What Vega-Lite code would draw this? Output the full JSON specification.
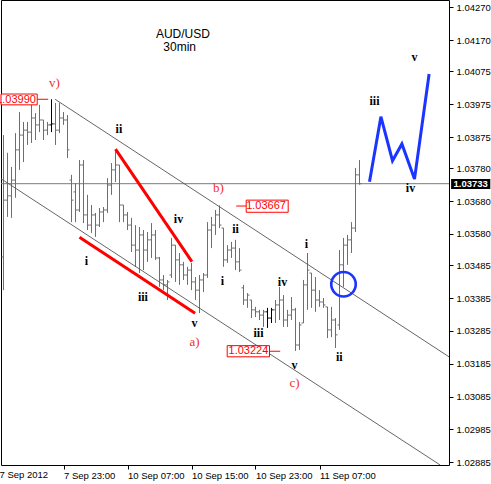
{
"$schema":"https://vega.github.io/schema/vega-lite/v6.json",
"width":448,"height":465,
"autosize":"none",
"padding":{"left":1,"top":0,"right":42,"bottom":19},
"background":"white",
"view":{"stroke":"#000","strokeWidth":1},
"config":{"font":"Liberation Sans"},
"datasets":{
"bars":[
{"i":0,"o":1.03510,"h":1.03881,"l":1.03409,"c":1.03683},
{"i":1,"o":1.03683,"h":1.03827,"l":1.03632,"c":1.03696},
{"i":2,"o":1.03696,"h":1.03784,"l":1.03629,"c":1.03744},
{"i":3,"o":1.03744,"h":1.03887,"l":1.03690,"c":1.03836},
{"i":4,"o":1.03836,"h":1.03951,"l":1.03775,"c":1.03881},
{"i":5,"o":1.03881,"h":1.03921,"l":1.03799,"c":1.03896},
{"i":6,"o":1.03896,"h":1.03921,"l":1.03851,"c":1.03890},
{"i":7,"o":1.03890,"h":1.03973,"l":1.03857,"c":1.03933},
{"i":8,"o":1.03933,"h":1.03948,"l":1.03866,"c":1.03912},
{"i":9,"o":1.03912,"h":1.03973,"l":1.03890,"c":1.03927},
{"i":10,"o":1.03927,"h":1.03927,"l":1.03866,"c":1.03896},
{"i":11,"o":1.03896,"h":1.03921,"l":1.03881,"c":1.03912},
{"i":12,"o":1.03912,"h":1.03990,"l":1.03890,"c":1.03915,"sel":1},
{"i":13,"o":1.03915,"h":1.03979,"l":1.03851,"c":1.03896},
{"i":14,"o":1.03896,"h":1.03979,"l":1.03887,"c":1.03933},
{"i":15,"o":1.03933,"h":1.03951,"l":1.03912,"c":1.03927},
{"i":16,"o":1.03927,"h":1.03942,"l":1.03811,"c":1.03836},
{"i":17,"o":1.03744,"h":1.03760,"l":1.03616,"c":1.03683},
{"i":18,"o":1.03708,"h":1.03735,"l":1.03616,"c":1.03653},
{"i":19,"o":1.03653,"h":1.03805,"l":1.03647,"c":1.03790},
{"i":20,"o":1.03790,"h":1.03805,"l":1.03613,"c":1.03638},
{"i":21,"o":1.03638,"h":1.03699,"l":1.03592,"c":1.03607},
{"i":22,"o":1.03607,"h":1.03668,"l":1.03583,"c":1.03638},
{"i":23,"o":1.03638,"h":1.03644,"l":1.03571,"c":1.03607},
{"i":24,"o":1.03607,"h":1.03659,"l":1.03601,"c":1.03647},
{"i":25,"o":1.03647,"h":1.03662,"l":1.03616,"c":1.03653},
{"i":26,"o":1.03653,"h":1.03750,"l":1.03644,"c":1.03729},
{"i":27,"o":1.03729,"h":1.03796,"l":1.03699,"c":1.03775},
{"i":28,"o":1.03775,"h":1.03836,"l":1.03738,"c":1.03790},
{"i":29,"o":1.03790,"h":1.03790,"l":1.03616,"c":1.03668},
{"i":30,"o":1.03668,"h":1.03668,"l":1.03616,"c":1.03638},
{"i":31,"o":1.03638,"h":1.03647,"l":1.03592,"c":1.03607},
{"i":32,"o":1.03607,"h":1.03629,"l":1.03525,"c":1.03546},
{"i":33,"o":1.03546,"h":1.03607,"l":1.03480,"c":1.03531},
{"i":34,"o":1.03531,"h":1.03601,"l":1.03461,"c":1.03577},
{"i":35,"o":1.03577,"h":1.03592,"l":1.03470,"c":1.03531},
{"i":36,"o":1.03531,"h":1.03586,"l":1.03495,"c":1.03562},
{"i":37,"o":1.03562,"h":1.03613,"l":1.03507,"c":1.03577},
{"i":38,"o":1.03577,"h":1.03592,"l":1.03501,"c":1.03507},
{"i":39,"o":1.03507,"h":1.03510,"l":1.03419,"c":1.03440},
{"i":40,"o":1.03440,"h":1.03455,"l":1.03409,"c":1.03425},
{"i":41,"o":1.03425,"h":1.03440,"l":1.03379,"c":1.03434},
{"i":42,"o":1.03455,"h":1.03568,"l":1.03446,"c":1.03546},
{"i":43,"o":1.03546,"h":1.03546,"l":1.03434,"c":1.03501},
{"i":44,"o":1.03501,"h":1.03522,"l":1.03425,"c":1.03486},
{"i":45,"o":1.03486,"h":1.03495,"l":1.03440,"c":1.03455},
{"i":46,"o":1.03455,"h":1.03480,"l":1.03425,"c":1.03470},
{"i":47,"o":1.03470,"h":1.03492,"l":1.03409,"c":1.03434},
{"i":48,"o":1.03434,"h":1.03449,"l":1.03379,"c":1.03409},
{"i":49,"o":1.03409,"h":1.03455,"l":1.03339,"c":1.03440},
{"i":50,"o":1.03440,"h":1.03461,"l":1.03403,"c":1.03455},
{"i":51,"o":1.03455,"h":1.03616,"l":1.03446,"c":1.03592},
{"i":52,"o":1.03592,"h":1.03632,"l":1.03537,"c":1.03607},
{"i":53,"o":1.03607,"h":1.03653,"l":1.03577,"c":1.03638},
{"i":54,"o":1.03638,"h":1.03667,"l":1.03598,"c":1.03607},
{"i":55,"o":1.03598,"h":1.03598,"l":1.03480,"c":1.03501},
{"i":56,"o":1.03501,"h":1.03546,"l":1.03492,"c":1.03531},
{"i":57,"o":1.03531,"h":1.03556,"l":1.03507,"c":1.03537},
{"i":58,"o":1.03537,"h":1.03562,"l":1.03470,"c":1.03495},
{"i":59,"o":1.03495,"h":1.03537,"l":1.03464,"c":1.03470},
{"i":60,"o":1.03416,"h":1.03425,"l":1.03364,"c":1.03379},
{"i":61,"o":1.03379,"h":1.03400,"l":1.03355,"c":1.03394},
{"i":62,"o":1.03379,"h":1.03379,"l":1.03324,"c":1.03349},
{"i":63,"o":1.03349,"h":1.03358,"l":1.03327,"c":1.03343},
{"i":64,"o":1.03343,"h":1.03349,"l":1.03318,"c":1.03333},
{"i":65,"o":1.03333,"h":1.03349,"l":1.03297,"c":1.03343},
{"i":66,"o":1.03343,"h":1.03355,"l":1.03294,"c":1.03324,"sel":1},
{"i":67,"o":1.03324,"h":1.03355,"l":1.03309,"c":1.03349,"sel":1},
{"i":68,"o":1.03349,"h":1.03379,"l":1.03309,"c":1.03364},
{"i":69,"o":1.03364,"h":1.03419,"l":1.03318,"c":1.03379},
{"i":70,"o":1.03379,"h":1.03394,"l":1.03297,"c":1.03318},
{"i":71,"o":1.03318,"h":1.03349,"l":1.03297,"c":1.03333},
{"i":72,"o":1.03333,"h":1.03388,"l":1.03318,"c":1.03349},
{"i":73,"o":1.03349,"h":1.03355,"l":1.03224,"c":1.03242},
{"i":74,"o":1.03242,"h":1.03312,"l":1.03227,"c":1.03303},
{"i":75,"o":1.03309,"h":1.03440,"l":1.03309,"c":1.03425},
{"i":76,"o":1.03425,"h":1.03522,"l":1.03349,"c":1.03470},
{"i":77,"o":1.03461,"h":1.03461,"l":1.03355,"c":1.03409},
{"i":78,"o":1.03409,"h":1.03449,"l":1.03343,"c":1.03379},
{"i":79,"o":1.03379,"h":1.03409,"l":1.03358,"c":1.03373},
{"i":80,"o":1.03373,"h":1.03385,"l":1.03355,"c":1.03364},
{"i":81,"o":1.03358,"h":1.03358,"l":1.03263,"c":1.03288},
{"i":82,"o":1.03288,"h":1.03358,"l":1.03266,"c":1.03318},
{"i":83,"o":1.03318,"h":1.03324,"l":1.03233,"c":1.03273},
{"i":84,"o":1.03303,"h":1.03531,"l":1.03288,"c":1.03486},
{"i":85,"o":1.03486,"h":1.03568,"l":1.03419,"c":1.03546},
{"i":86,"o":1.03546,"h":1.03577,"l":1.03486,"c":1.03562},
{"i":87,"o":1.03562,"h":1.03616,"l":1.03522,"c":1.03598},
{"i":88,"o":1.03598,"h":1.03781,"l":1.03586,"c":1.03760},
{"i":89,"o":1.03760,"h":1.03805,"l":1.03730,"c":1.03733}
],
"hline":[{"p":1.03733}],
"channels":[
{"id":"u","i":12.9,"p":1.03990},{"id":"u","i":111.375,"p":1.03206},
{"id":"d","i":-0.625,"p":1.03748},{"id":"d","i":109.175,"p":1.028767}
],
"red":[
{"id":"a","i":28.0,"p":1.03838},{"id":"a","i":47.1,"p":1.03496},
{"id":"b","i":19.0,"p":1.03570},{"id":"b","i":47.9,"p":1.03339}
],
"proj":[
{"n":1,"i":91.5,"p":1.03739},{"n":2,"i":94.35,"p":1.03937},{"n":3,"i":97.25,"p":1.03803},
{"n":4,"i":99.6,"p":1.03854},{"n":5,"i":102.75,"p":1.03747},{"n":6,"i":106.4,"p":1.04067}
],
"circle":[{"i":85,"p":1.03427}],
"waves":[
{"t":"ii","i":28.85,"p":1.03899},{"t":"iv","i":43.75,"p":1.03625},{"t":"ii","i":58.0,"p":1.03596},
{"t":"i","i":20.75,"p":1.03499},{"t":"iii","i":34.85,"p":1.03387},{"t":"v","i":47.75,"p":1.03308},
{"t":"i","i":54.75,"p":1.03438},{"t":"iii","i":63.75,"p":1.03278},{"t":"iv","i":69.75,"p":1.03433},
{"t":"i","i":75.75,"p":1.03550},{"t":"v","i":72.75,"p":1.03181},{"t":"ii","i":83.93,"p":1.03206},
{"t":"iii","i":92.75,"p":1.03985},{"t":"v","i":102.75,"p":1.04120},{"t":"iv","i":101.75,"p":1.03721}
],
"degree":[
{"t":"v)","i":12.75,"p":1.04039},{"t":"a)","i":47.75,"p":1.03252},
{"t":"b)","i":53.75,"p":1.03719},{"t":"c)","i":72.75,"p":1.03127}
],
"boxes":[
{"t":"1.03990","i1":-0.625,"i2":8.425,"p1":1.03973,"p2":1.04006,"ti":8.1,"tp":1.03989},
{"t":"1.03667","i1":60.675,"i2":71.175,"p1":1.03646,"p2":1.03683,"ti":70.6,"tp":1.03665},
{"t":"1.03224","i1":55.925,"i2":66.5,"p1":1.03206,"p2":1.03240,"ti":66.2,"tp":1.03223}
],
"conn":[
{"i1":8.425,"i2":11.175,"p":1.03990},{"i1":58.175,"i2":60.675,"p":1.03665},{"i1":66.5,"i2":69.175,"p":1.03223}
],
"cur":[{"t":"1.03733","i1":111.9,"i2":121.7,"p1":1.03717,"p2":1.03747,"ti":116.8,"tp":1.03732}],
"titles":[{"t":"AUD/USD","i":44.85,"p":1.04190},{"t":"30min","i":44.05,"p":1.04150}],
"firstdate":[{"t":"7 Sep 2012","i":-1,"p":1.02862}]
},
"layer":[
{"data":{"name":"hline"},"mark":{"type":"rule","strokeWidth":1,"color":"#7a7a7a"},
 "encoding":{
  "x":{"datum":-0.625,"type":"quantitative","scale":{"domain":[-0.625,111.375],"nice":false,"zero":false},
   "axis":{"values":[15,31,47,63,79],"tickCount":20,"labelExpr":"datum.value==15?'7 Sep 23:00':datum.value==31?'10 Sep 07:00':datum.value==47?'10 Sep 15:00':datum.value==63?'10 Sep 23:00':'11 Sep 07:00'","labelAlign":"left","labelBaseline":"top","labelPadding":1,"tickSize":4,"tickColor":"#000","labelColor":"#000","labelFontSize":9.5,"labelFont":"Liberation Sans","domain":false,"grid":false,"title":null,"labelFlush":false,"labelOverlap":false}},
  "x2":{"datum":111.375},
  "y":{"field":"p","type":"quantitative","scale":{"domain":[1.028767,1.042922],"nice":false,"zero":false},
   "axis":{"orient":"right","values":[1.0427,1.0417,1.04075,1.03975,1.03875,1.0378,1.0368,1.0358,1.03485,1.03385,1.03285,1.03185,1.03085,1.02985,1.02885],"tickCount":30,"format":".5f","tickSize":4,"tickColor":"#000","labelPadding":3,"labelColor":"#000","labelFontSize":9.5,"labelFont":"Liberation Sans","domain":false,"grid":false,"title":null,"labelFlush":false,"labelOverlap":false,"labelBaseline":"middle"}}
 }},
{"data":{"name":"bars"},"mark":{"type":"rule","strokeWidth":1},
 "encoding":{
  "x":{"field":"i","type":"quantitative"},
  "y":{"field":"l","type":"quantitative"},
  "y2":{"field":"h"},
  "color":{"condition":{"test":"datum.sel==1","value":"#000000"},"value":"#6e6e6e"}
 }},
{"data":{"name":"bars"},"mark":{"type":"rule","strokeWidth":1,"xOffset":-2,"x2Offset":0},
 "encoding":{"x":{"field":"i","type":"quantitative"},"x2":{"field":"i"},"y":{"field":"o","type":"quantitative"},
  "color":{"condition":{"test":"datum.sel==1","value":"#000000"},"value":"#6e6e6e"}}},
{"data":{"name":"bars"},"mark":{"type":"rule","strokeWidth":1,"xOffset":0,"x2Offset":2},
 "encoding":{"x":{"field":"i","type":"quantitative"},"x2":{"field":"i"},"y":{"field":"c","type":"quantitative"},
  "color":{"condition":{"test":"datum.sel==1","value":"#000000"},"value":"#6e6e6e"}}},
{"data":{"name":"channels"},"mark":{"type":"line","strokeWidth":0.9,"color":"#555555","clip":true},
 "encoding":{"x":{"field":"i","type":"quantitative"},"y":{"field":"p","type":"quantitative"},"detail":{"field":"id"}}},
{"data":{"name":"red"},"mark":{"type":"line","strokeWidth":3,"color":"#ff0000"},
 "encoding":{"x":{"field":"i","type":"quantitative"},"y":{"field":"p","type":"quantitative"},"detail":{"field":"id"}}},
{"data":{"name":"proj"},"mark":{"type":"line","strokeWidth":3,"color":"#1a35ff"},
 "encoding":{"x":{"field":"i","type":"quantitative"},"y":{"field":"p","type":"quantitative"},"order":{"field":"n"}}},
{"data":{"name":"circle"},"mark":{"type":"point","shape":"circle","size":600,"filled":false,"strokeWidth":2.6,"color":"#1a35ff","opacity":1},
 "encoding":{"x":{"field":"i","type":"quantitative"},"y":{"field":"p","type":"quantitative"}}},
{"data":{"name":"conn"},"mark":{"type":"rule","strokeWidth":1,"color":"#ff0000"},
 "encoding":{"x":{"field":"i1","type":"quantitative"},"x2":{"field":"i2"},"y":{"field":"p","type":"quantitative"}}},
{"data":{"name":"boxes"},"mark":{"type":"rect","fill":"#ffffff","stroke":"#ff0000","strokeWidth":1},
 "encoding":{"x":{"field":"i1","type":"quantitative"},"x2":{"field":"i2"},"y":{"field":"p1","type":"quantitative"},"y2":{"field":"p2"}}},
{"data":{"name":"boxes"},"mark":{"type":"text","align":"right","baseline":"middle","font":"Liberation Sans","fontSize":11,"color":"#ff0000"},
 "encoding":{"x":{"field":"ti","type":"quantitative"},"y":{"field":"tp","type":"quantitative"},"text":{"field":"t"}}},
{"data":{"name":"cur"},"mark":{"type":"rect","fill":"#000000","clip":false},
 "encoding":{"x":{"field":"i1","type":"quantitative"},"x2":{"field":"i2"},"y":{"field":"p1","type":"quantitative"},"y2":{"field":"p2"}}},
{"data":{"name":"cur"},"mark":{"type":"text","align":"center","baseline":"middle","font":"Liberation Sans","fontSize":9.5,"color":"#ffffff","fontWeight":"bold"},
 "encoding":{"x":{"field":"ti","type":"quantitative"},"y":{"field":"tp","type":"quantitative"},"text":{"field":"t"}}},
{"data":{"name":"waves"},"mark":{"type":"text","align":"center","baseline":"middle","font":"Liberation Serif","fontSize":12,"fontWeight":"bold","color":"#000000"},
 "encoding":{"x":{"field":"i","type":"quantitative"},"y":{"field":"p","type":"quantitative"},"text":{"field":"t"}}},
{"data":{"name":"degree"},"mark":{"type":"text","align":"center","baseline":"middle","font":"Liberation Serif","fontSize":13,"color":"#f0302a"},
 "encoding":{"x":{"field":"i","type":"quantitative"},"y":{"field":"p","type":"quantitative"},"text":{"field":"t"}}},
{"data":{"name":"titles"},"mark":{"type":"text","align":"center","baseline":"middle","font":"Liberation Sans","fontSize":12,"color":"#000000"},
 "encoding":{"x":{"field":"i","type":"quantitative"},"y":{"field":"p","type":"quantitative"},"text":{"field":"t"}}},
{"data":{"name":"firstdate"},"mark":{"type":"text","align":"left","baseline":"top","font":"Liberation Sans","fontSize":9.5,"color":"#000000","clip":false},
 "encoding":{"x":{"field":"i","type":"quantitative"},"y":{"field":"p","type":"quantitative"},"text":{"field":"t"}}}
]
}
